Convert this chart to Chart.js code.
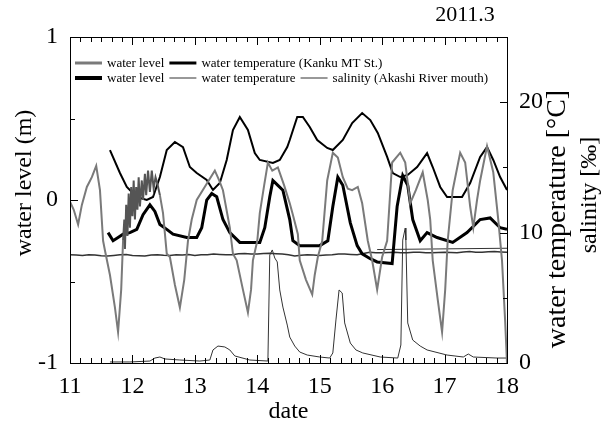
<!DOCTYPE html>
<html>
<head>
<meta charset="utf-8">
<script src="https://cdn.jsdelivr.net/npm/chart.js@4.4.1/dist/chart.umd.min.js"></script>
<style>
  html, body { margin: 0; padding: 0; background: #fff; }
  #chart { display: block; }
</style>
</head>
<body>
<canvas id="chart" width="608" height="429"></canvas>
<script>
var SERIF = "'Liberation Serif', 'Times New Roman', serif";

// water level, Kanku (m)
var kankuLevelDay = [11.00, 11.06, 11.13, 11.19, 11.27, 11.35, 11.42, 11.48, 11.53, 11.56, 11.64, 11.72, 11.77, 11.82,
  11.85, 11.87, 11.88, 11.90, 11.92, 11.94, 11.96, 11.98, 12.00, 12.02, 12.04, 12.06, 12.08, 12.10, 12.12, 12.15,
  12.17, 12.20, 12.22, 12.25, 12.28, 12.31, 12.34, 12.37, 12.40, 12.44, 12.49, 12.55, 12.60, 12.68, 12.76, 12.83,
  12.89, 12.95, 13.03, 13.19, 13.32, 13.39, 13.45, 13.56, 13.61, 13.67, 13.77, 13.85, 13.90, 13.93, 14.00, 14.04,
  14.11, 14.17, 14.24, 14.33, 14.43, 14.52, 14.57, 14.65, 14.68, 14.78, 14.88, 14.92, 14.97, 15.04, 15.12, 15.21,
  15.29, 15.37, 15.45, 15.52, 15.61, 15.68, 15.77, 15.84, 15.92, 16.00, 16.08, 16.16, 16.29, 16.37, 16.45, 16.54,
  16.65, 16.73, 16.77, 16.81, 16.89, 16.96, 17.01, 17.05, 17.13, 17.25, 17.33, 17.41, 17.46, 17.52, 17.57, 17.68,
  17.78, 17.86, 17.92, 17.97, 18.00];
var kankuLevel = [-0.01, -0.06, -0.15, -0.03, 0.08, 0.14, 0.21, 0.06, -0.25, -0.31, -0.46, -0.66, -0.81, -0.55,
  -0.25, -0.12, -0.30, -0.03, -0.22, 0.04, -0.17, 0.08, -0.10, 0.12, -0.12, 0.08, -0.06, 0.14, -0.04, 0.12,
  0.00, 0.16, 0.03, 0.18, 0.05, 0.18, 0.07, 0.14, 0.10, 0.03, -0.08, -0.33, -0.35, -0.52, -0.66, -0.49,
  -0.25, -0.12, 0.00, 0.10, 0.18, 0.12, 0.06, -0.17, -0.33, -0.37, -0.55, -0.69, -0.55, -0.37, -0.25, -0.08,
  0.09, 0.23, 0.18, 0.20, 0.09, -0.02, -0.09, -0.21, -0.37, -0.49, -0.58, -0.46, -0.35, -0.25, 0.12, 0.29,
  0.26, 0.14, 0.07, 0.06, 0.08, -0.02, -0.25, -0.37, -0.55, -0.35, -0.25, 0.23, 0.29, 0.23, -0.02, 0.06,
  0.17, 0.00, -0.12, -0.37, -0.61, -0.81, -0.55, -0.25, 0.06, 0.29, 0.23, -0.04, -0.17, 0.00, 0.12, 0.33,
  0.17, -0.12, -0.37, -0.74, -1.00];

// water temperature, Kanku MT St. (degC)
var kankuTempDay = [11.64, 11.80, 11.91, 12.07, 12.23, 12.33, 12.44, 12.55, 12.68, 12.81, 12.92, 13.03, 13.19, 13.29,
  13.40, 13.51, 13.61, 13.72, 13.85, 13.96, 14.04, 14.25, 14.36, 14.48, 14.52, 14.64, 14.73, 14.84, 14.96, 15.12,
  15.21, 15.37, 15.52, 15.68, 15.81, 15.93, 16.08, 16.17, 16.29, 16.41, 16.56, 16.72, 16.81, 16.93, 17.04, 17.13,
  17.28, 17.41, 17.57, 17.68, 17.78, 17.89, 18.00];
var kankuTemp = [16.33, 14.57, 13.50, 12.73, 12.50, 12.73, 14.26, 16.33, 16.95, 16.56, 15.03, 14.57, 14.03, 13.27,
  13.80, 15.57, 17.87, 18.87, 17.87, 16.10, 15.57, 15.34, 15.57, 16.56, 17.10, 18.87, 18.87, 18.10, 17.10, 16.49,
  16.33, 17.10, 18.40, 19.17, 18.63, 17.64, 15.80, 14.57, 14.26, 14.42, 15.03, 16.10, 15.03, 13.50, 12.73, 12.73,
  12.73, 13.80, 15.80, 16.56, 15.57, 14.26, 13.27];

// water level, Akashi River mouth (m)
var akashiLevelDay = [11.61, 11.69, 11.77, 11.85, 11.96, 12.07, 12.17, 12.28, 12.36, 12.44, 12.55, 12.65, 12.87, 13.03,
  13.11, 13.19, 13.27, 13.35, 13.45, 13.56, 13.72, 13.93, 14.04, 14.12, 14.20, 14.25, 14.33, 14.41, 14.52, 14.57,
  14.68, 15.00, 15.13, 15.21, 15.29, 15.37, 15.49, 15.60, 15.68, 15.81, 15.92, 16.16, 16.19, 16.24, 16.33, 16.41,
  16.49, 16.61, 16.72, 16.88, 17.13, 17.36, 17.57, 17.73, 17.89, 18.00];
var akashiLevel = [-0.20, -0.25, -0.23, -0.21, -0.20, -0.18, -0.09, -0.03, -0.07, -0.15, -0.18, -0.21, -0.23, -0.23,
  -0.17, 0.00, 0.04, 0.02, -0.12, -0.20, -0.26, -0.26, -0.26, -0.17, 0.02, 0.12, 0.09, 0.06, -0.12, -0.25,
  -0.28, -0.28, -0.25, -0.04, 0.14, 0.09, -0.14, -0.28, -0.33, -0.36, -0.38, -0.39, -0.26, -0.04, 0.15, 0.09,
  -0.12, -0.25, -0.20, -0.23, -0.26, -0.20, -0.12, -0.11, -0.17, -0.18];

// water temperature, Akashi River mouth (degC)
var akashiTempDay = [11.0, 11.1, 11.2, 11.3, 11.4, 11.5, 11.6, 11.7, 11.8, 11.9, 12.0, 12.1, 12.2, 12.3, 12.4, 12.5,
  12.6, 12.7, 12.8, 12.9, 13.0, 13.1, 13.2, 13.3, 13.4, 13.5, 13.6, 13.7, 13.8, 13.9, 14.0, 14.1, 14.2, 14.3, 14.4,
  14.5, 14.6, 14.7, 14.8, 14.9, 15.0, 15.1, 15.2, 15.3, 15.4, 15.5, 15.6, 15.7, 15.8, 15.9, 16.0, 16.1, 16.2, 16.3,
  16.4, 16.5, 16.6, 16.7, 16.8, 16.9, 17.0, 17.1, 17.2, 17.3, 17.4, 17.5, 17.6, 17.7, 17.8, 17.9, 18.0];
var akashiTemp = [8.30, 8.28, 8.25, 8.30, 8.28, 8.22, 8.20, 8.25, 8.30, 8.32, 8.25, 8.22, 8.20, 8.28, 8.30, 8.26,
  8.25, 8.30, 8.28, 8.32, 8.25, 8.30, 8.30, 8.35, 8.32, 8.30, 8.30, 8.38, 8.40, 8.36, 8.35, 8.40, 8.42, 8.38, 8.35,
  8.30, 8.20, 8.26, 8.30, 8.28, 8.25, 8.28, 8.30, 8.35, 8.35, 8.32, 8.30, 8.40, 8.50, 8.46, 8.45, 8.48, 8.50, 8.46,
  8.45, 8.50, 8.50, 8.46, 8.45, 8.48, 8.50, 8.47, 8.45, 8.52, 8.55, 8.50, 8.50, 8.54, 8.55, 8.52, 8.50];
var akashiTempGapDay = [15.92, 18.00];
var akashiTempGap = [8.70, 8.80];

// salinity, Akashi River mouth (permil)
var salinityDay = [11.64, 11.96, 12.28, 12.36, 12.44, 12.52, 12.76, 13.08, 13.24, 13.29, 13.37, 13.48, 13.56, 13.64,
  13.88, 14.17, 14.20, 14.24, 14.28, 14.32, 14.36, 14.41, 14.48, 14.52, 14.60, 14.68, 14.80, 15.00, 15.16, 15.21,
  15.26, 15.31, 15.36, 15.40, 15.49, 15.58, 15.69, 15.97, 16.25, 16.30, 16.33, 16.37, 16.38, 16.41, 16.49, 16.61,
  16.72, 17.04, 17.30, 17.38, 17.46, 17.84, 18.00];
var salinity = [0.08, 0.08, 0.15, 0.38, 0.46, 0.31, 0.23, 0.15, 0.23, 1.00, 1.30, 1.23, 1.00, 0.54,
  0.23, 0.15, 8.28, 8.67, 8.05, 7.75, 5.60, 4.29, 2.91, 1.99, 1.30, 0.84, 0.61, 0.46, 0.38, 0.77,
  3.30, 5.60, 5.37, 3.07, 1.53, 1.00, 0.77, 0.46, 0.38, 1.38, 9.43, 10.35, 9.43, 3.07, 1.76, 1.30,
  1.00, 0.61, 0.46, 0.69, 0.46, 0.38, 0.38];

function pts(days, vals) {
  return days.map(function (d, i) { return { x: d, y: vals[i] }; });
}

// legend and the extra texts
var texts = {
  id: 'texts',
  afterDraw: function (chart) {
    var ctx = chart.ctx;
    ctx.save();
    ctx.fillStyle = '#000';
    var rows = [[0, 1], [2, 3, 4]];
    ctx.font = '13px ' + SERIF;
    ctx.textBaseline = 'middle';
    ctx.textAlign = 'left';
    rows.forEach(function (row, r) {
      var x = 75, y = 63 + r * 15;
      row.forEach(function (i) {
        var ds = chart.data.datasets[i];
        ctx.beginPath();
        ctx.strokeStyle = ds.borderColor;
        ctx.lineWidth = ds.borderWidth > 1.5 ? ds.borderWidth + 1 : 1;
        ctx.moveTo(x, y); ctx.lineTo(x + 27, y);
        ctx.stroke();
        ctx.fillText(ds.label, x + 32, y + 1);
        x += 32 + ctx.measureText(ds.label).width + 5;
      });
    });

    ctx.font = '22px ' + SERIF;
    ctx.textAlign = 'center';
    ctx.fillText('2011.3', 465, 15);

    ctx.font = '24px ' + SERIF;
    ctx.save();
    ctx.translate(25, 183);
    ctx.rotate(-Math.PI / 2);
    ctx.fillText('water level (m)', 0, 0);
    ctx.restore();
    ctx.font = '28px ' + SERIF;
    ctx.save();
    ctx.translate(558, 219);
    ctx.rotate(-Math.PI / 2);
    ctx.fillText('water temperature [\u00b0C]', 0, 0);
    ctx.restore();
    ctx.font = '24px ' + SERIF;
    ctx.save();
    ctx.translate(590, 195);
    ctx.rotate(-Math.PI / 2);
    ctx.fillText('salinity [\u2030]', 0, 0);
    ctx.restore();
    ctx.restore();
  }
};

// box and inward ticks, drawn last
var frame = {
  id: 'frame',
  afterDraw: function (chart) {
    var ctx = chart.ctx;
    var a = chart.chartArea;
    var sx = chart.scales.x, sy = chart.scales.y, sy2 = chart.scales.y2;
    var L = Math.round(a.left), R = Math.round(a.right);
    var T = Math.round(a.top), B = Math.round(a.bottom);
    ctx.save();
    ctx.setTransform(1, 0, 0, 1, 0, 0);
    ctx.globalAlpha = 1;
    ctx.globalCompositeOperation = 'source-over';
    ctx.fillStyle = '#000';
    ctx.fillRect(L, T, R - L + 1, 1);
    ctx.fillRect(L, B, R - L + 1, 1);
    ctx.fillRect(L, T, 1, B - T + 1);
    ctx.fillRect(R, T, 1, B - T + 1);
    for (var k = 0; k <= 42; k++) {
      var px = Math.round(sx.getPixelForValue(11 + k / 6));
      var len = (k % 6 === 0) ? 8 : 5;
      ctx.fillRect(px, B - len, 1, len);
      ctx.fillRect(px, T, 1, len);
    }
    [-0.5, 0, 0.5].forEach(function (v) {
      var py = Math.round(sy.getPixelForValue(v));
      ctx.fillRect(L, py, v === 0 ? 8 : 5, 1);
    });
    [5, 10, 15, 20].forEach(function (v) {
      var py = Math.round(sy2.getPixelForValue(v));
      var n = v % 10 === 0 ? 8 : 5;
      ctx.fillRect(R - n + 1, py, n, 1);
    });
    ctx.restore();
  }
};

var tickFont = { family: SERIF, size: 24 };

new Chart(document.getElementById('chart'), {
  type: 'line',
  data: {
    datasets: [{
      label: 'water level',
      data: pts(kankuLevelDay, kankuLevel),
      borderColor: '#7a7a7a',
      borderWidth: 2,
      yAxisID: 'y',
      segment: {
        borderColor: function (c) {
          return (c.p0.parsed.x >= 11.84 && c.p1.parsed.x <= 12.45) ? '#555' : undefined;
        }
      }
    }, {
      label: 'water temperature (Kanku MT St.)',
      data: pts(kankuTempDay, kankuTemp),
      borderColor: '#000',
      borderWidth: 2,
      yAxisID: 'y2'
    }, {
      label: 'water level',
      data: pts(akashiLevelDay, akashiLevel),
      borderColor: '#000',
      borderWidth: 3,
      yAxisID: 'y'
    }, {
      label: 'water temperature',
      data: pts(akashiTempDay, akashiTemp),
      borderColor: '#333',
      borderWidth: 1.5,
      yAxisID: 'y2'
    }, {
      label: 'salinity (Akashi River mouth)',
      data: pts(salinityDay, salinity),
      borderColor: '#333',
      borderWidth: 1,
      yAxisID: 'y2'
    }, {
      label: '',
      data: pts(akashiTempGapDay, akashiTempGap),
      borderColor: '#333',
      borderWidth: 1,
      yAxisID: 'y2'
    }]
  },
  options: {
    responsive: false,
    devicePixelRatio: 1,
    animation: false,
    layout: { padding: { top: 37, left: 0, right: 0, bottom: 0 } },
    elements: {
      point: { radius: 0 },
      line: { tension: 0, fill: false }
    },
    plugins: {
      legend: { display: false },
      tooltip: { enabled: false }
    },
    scales: {
      x: {
        type: 'linear',
        min: 11,
        max: 18,
        grid: { display: false },
        border: { display: false },
        ticks: { stepSize: 1, font: tickFont, color: '#000', padding: 1 },
        title: { display: true, text: 'date', font: tickFont, color: '#000', padding: { top: 0, bottom: 3 } },
        afterFit: function (s) { s.height = 66; }
      },
      y: {
        type: 'linear',
        position: 'left',
        min: -1,
        max: 1,
        grid: { display: false },
        border: { display: false },
        ticks: { stepSize: 1, font: tickFont, color: '#000', padding: 4 },
        afterFit: function (s) { s.width = 70; }
      },
      y2: {
        type: 'linear',
        position: 'right',
        min: 0,
        max: 25,
        grid: { display: false },
        border: { display: false },
        ticks: { font: tickFont, color: '#000', padding: 4 },
        afterBuildTicks: function (s) { s.ticks = [0, 10, 20].map(function (v) { return { value: v }; }); },
        afterFit: function (s) { s.width = 101; }
      }
    }
  },
  plugins: [texts, frame]
});
</script>
</body>
</html>
